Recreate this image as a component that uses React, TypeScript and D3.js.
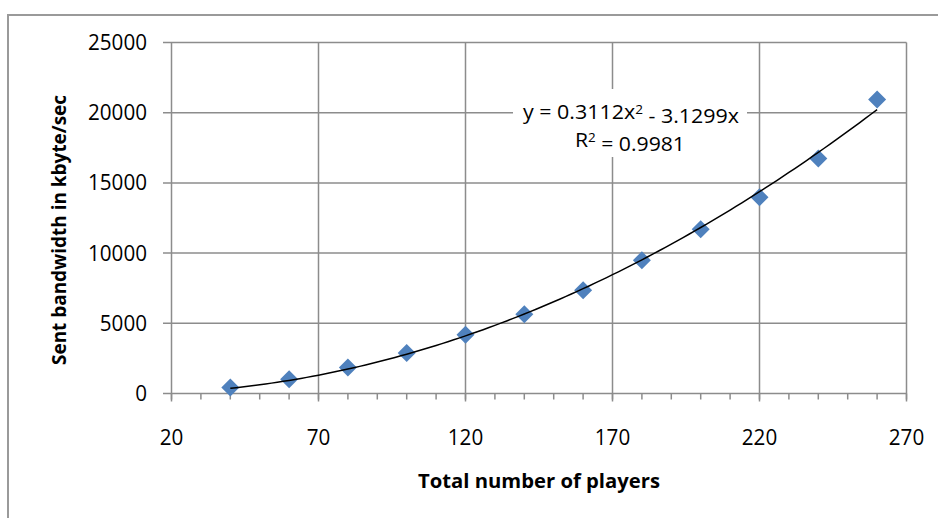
import React from "react";
import * as d3 from "d3";

const players = [40, 60, 80, 100, 120, 140, 160, 180, 200, 220, 240, 260];
const bandwidth = [430, 1020, 1860, 2890, 4180, 5650, 7360, 9490, 11700, 13980, 16740, 20940];
const xTicks = [20, 70, 120, 170, 220, 270];
const yTicks = [0, 5000, 10000, 15000, 20000, 25000];
const trendA = 0.3112;
const trendB = -3.1299;
const eqLine1 = "y = 0.3112x";
const eqLine1b = " - 3.1299x";
const eqLine2 = "R";
const eqLine2b = " = 0.9981";

const W = 938;
const H = 518;
const FONT = "'Open Sans', Lato, sans-serif";

export default function App() {
  const x = d3.scaleLinear().domain([20, 270]).range([171.5, 906.5]);
  const y = d3.scaleLinear().domain([0, 25000]).range([393.5, 42.5]);
  const minor = d3.range(20, 271, 10);
  const trendX = d3.range(40, 260.01, 2);
  const line = d3
    .line<number>()
    .x((d) => x(d))
    .y((d) => y(trendA * d * d + trendB * d))
    .curve(d3.curveMonotoneX);
  const grid = "#8c8c8c";
  const diamond = (cx: number, cy: number, r: number) =>
    `M${cx},${cy - r}L${cx + r},${cy}L${cx},${cy + r}L${cx - r},${cy}Z`;
  const digitW = 11.8;

  return (
    <svg
      width={W}
      height={H}
      style={{ position: "absolute", left: 0, top: 0, background: "#fff" }}
    >
      <rect x={0} y={0} width={W} height={H} fill="#fff" />
      <line x1={8} x2={W} y1={15} y2={15} stroke="#9a9a9a" strokeWidth={2} />
      <line x1={8} x2={8} y1={14} y2={H} stroke="#9a9a9a" strokeWidth={2} />

      {yTicks.map((t) => (
        <line key={"gy" + t} x1={163} x2={x(270)} y1={y(t)} y2={y(t)} stroke={grid} strokeWidth={1.5} />
      ))}
      {xTicks.map((t) => (
        <line key={"gx" + t} x1={x(t)} x2={x(t)} y1={y(25000)} y2={y(0) + 8} stroke={grid} strokeWidth={1.5} />
      ))}
      {minor.map((t) => (
        <line key={"mt" + t} x1={x(t)} x2={x(t)} y1={y(0)} y2={y(0) + 6} stroke={grid} strokeWidth={1.5} />
      ))}

      {yTicks.map((t) => (
        <text key={"yl" + t} x={147} y={y(t)} dy="0.36em" textAnchor="end" fontFamily={FONT} fontSize={21} fill="#000"
          textLength={String(t).length * digitW} lengthAdjust="spacingAndGlyphs">
          {t}
        </text>
      ))}
      {xTicks.map((t) => (
        <text key={"xl" + t} x={x(t)} y={437} dy="0.36em" textAnchor="middle" fontFamily={FONT} fontSize={21} fill="#000"
          textLength={String(t).length * digitW} lengthAdjust="spacingAndGlyphs">
          {t}
        </text>
      ))}

      <text x={539} y={481} dy="0.36em" textAnchor="middle" fontFamily={FONT} fontSize={19} fontWeight="bold" fill="#000" textLength={242} lengthAdjust="spacingAndGlyphs">
        Total number of players
      </text>
      <text
        transform={`translate(59,${230}) rotate(-90)`}
        textAnchor="middle"
        dy="0.36em"
        fontFamily={FONT}
        fontSize={19}
        fontWeight="bold"
        fill="#000"
        textLength={270}
        lengthAdjust="spacingAndGlyphs"
      >
        Sent bandwidth in kbyte/sec
      </text>

      {players.map((p, i) => (
        <path key={"pt" + i} d={diamond(x(p), y(bandwidth[i]), 9)} fill="#4f81bd" />
      ))}

      <path d={line(trendX) || ""} fill="none" stroke="#000" strokeWidth={1.5} />

      <rect x={513} y={89} width={234} height={68} fill="#fff" />
      <text x={631} y={112} dy="0.36em" textAnchor="middle" fontFamily={FONT} fontSize={20.5} fill="#000"
        textLength={216} lengthAdjust="spacingAndGlyphs">
        {eqLine1}
        <tspan dy="-0.45em" fontSize={13}>2</tspan>
        <tspan dy="0.45em">{eqLine1b}</tspan>
      </text>
      <text x={630} y={140} dy="0.36em" textAnchor="middle" fontFamily={FONT} fontSize={20.5} fill="#000"
        textLength={110} lengthAdjust="spacingAndGlyphs">
        {eqLine2}
        <tspan dy="-0.45em" fontSize={13}>2</tspan>
        <tspan dy="0.45em">{eqLine2b}</tspan>
      </text>
    </svg>
  );
}
